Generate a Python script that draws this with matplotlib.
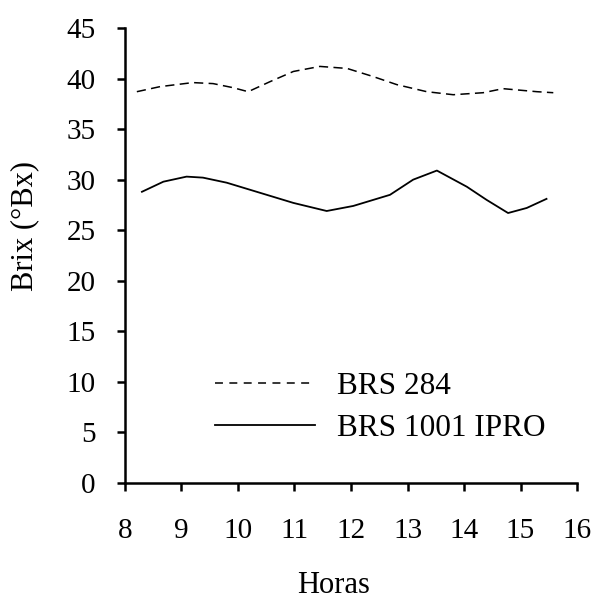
import matplotlib.pyplot as plt

# values
horas_284 = [8.21, 8.62, 9.20, 9.56, 9.91, 10.18, 10.57, 10.98, 11.45, 11.93,
             12.39, 12.81, 13.34, 13.81, 14.34, 14.69, 15.29, 15.58]
brix_284 = [38.7, 39.2, 39.6, 39.5, 39.1, 38.7, 39.7, 40.7, 41.2, 41.0,
            40.2, 39.4, 38.7, 38.4, 38.6, 39.0, 38.7, 38.6]

horas_1001 = [8.30, 8.68, 9.09, 9.38, 9.80, 10.39, 10.98, 11.57, 12.04, 12.69,
              13.10, 13.52, 14.05, 14.40, 14.78, 15.11, 15.46]
brix_1001 = [28.8, 29.8, 30.3, 30.2, 29.7, 28.7, 27.7, 26.9, 27.4, 28.5,
             30.0, 30.9, 29.3, 28.0, 26.7, 27.2, 28.1]

x_ticks = [8, 9, 10, 11, 12, 13, 14, 15, 16]
y_ticks = [0, 5, 10, 15, 20, 25, 30, 35, 40, 45]

plt.rcParams['font.family'] = ['Liberation Serif', 'DejaVu Serif']

fig = plt.figure(figsize=(6, 6.02), dpi=100)
ax = fig.add_axes([0.2083, 0.1977, 0.7534, 0.7558])

ax.plot(horas_284, brix_284, color='black', lw=1.1, dashes=(6, 3.5), label='BRS 284')
ax.plot(horas_1001, brix_1001, color='black', lw=1.3, label='BRS 1001 IPRO')

ax.set_xlim(8, 16)
ax.set_ylim(0, 45)
ax.set_xticks(x_ticks)
ax.set_yticks(y_ticks)

for s in ['top', 'right']:
    ax.spines[s].set_visible(False)
for s in ['left', 'bottom']:
    ax.spines[s].set_linewidth(1.8)

ax.tick_params(axis='both', direction='out', length=6, width=1.8, labelsize=21)
ax.tick_params(axis='x', pad=19)
ax.tick_params(axis='y', pad=15)

ax.set_xlabel('Horas', fontsize=22)
ax.xaxis.set_label_coords(0.462, -0.193)
ax.set_ylabel('Brix (°Bx)', fontsize=22)
ax.yaxis.set_label_coords(-0.19, 0.565)

leg = ax.legend(loc='upper left', bbox_to_anchor=(0.199, 0.245), frameon=False,
                fontsize=22.5, handlelength=3.2, handletextpad=0.72, labelspacing=0.42,
                borderpad=0, borderaxespad=0)
leg.get_lines()[0].set_dashes((5.2, 4.2))

fig.savefig('out.png', dpi=100)
